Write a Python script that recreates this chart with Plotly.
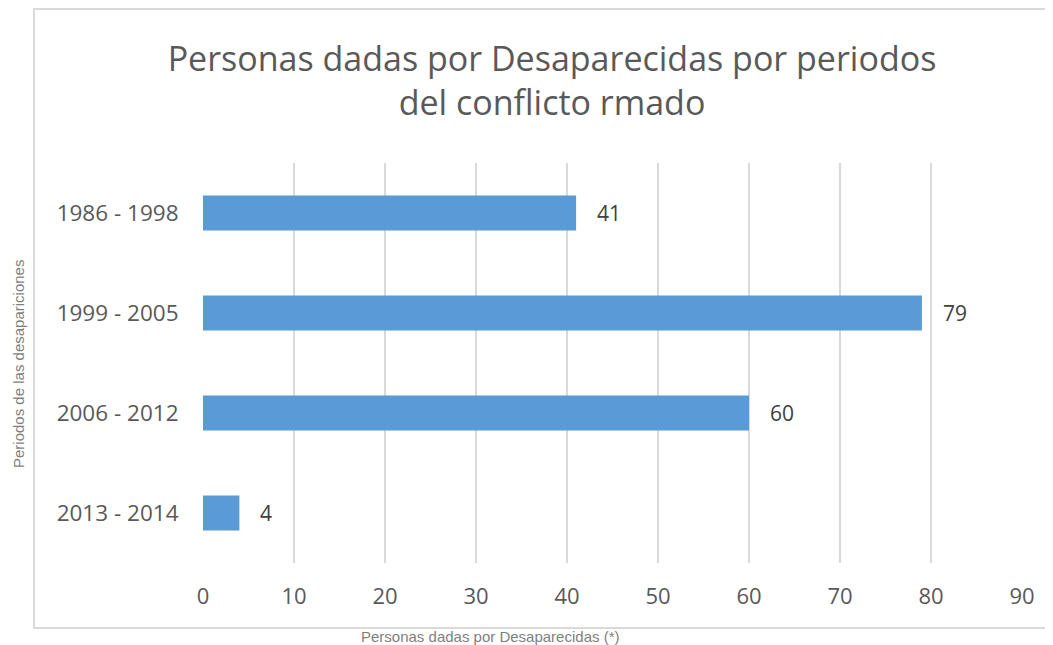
import plotly.graph_objects as go

categories = ["1986 - 1998", "1999 - 2005", "2006 - 2012", "2013 - 2014"]
values = [41, 79, 60, 4]
x_ticks = [0, 10, 20, 30, 40, 50, 60, 70, 80, 90]

title_text = "Personas dadas por Desaparecidas por periodos<br>del conflicto rmado"
x_title = "Personas dadas por Desaparecidas (*)"
y_title = "Periodos de las desapariciones"

# page body has an 8px margin; work in screen pixels and convert
OFF = 8
W, H = 1053 - OFF, 645 - OFF
PL, PR, PT, PB = 203, 1022, 163, 563  # plot area in screen pixels
L, T = PL - OFF, PT - OFF
R, B = W - (PR - OFF), H - (PB - OFF)
pw, ph = PR - PL, PB - PT

def px_x(p):
    return (p - PL) / pw

def px_y(p):
    return (PB - p) / ph

fig = go.Figure()
fig.add_trace(go.Bar(
    x=values, y=categories, orientation="h",
    marker=dict(color="#5B9BD5", line=dict(width=0)),
    hoverinfo="x+y",
))

annotations = []
for c, v in zip(categories, values):
    annotations.append(dict(
        x=v, y=c, xref="x", yref="y", text=str(v), showarrow=False,
        xanchor="left", xshift=19,
        font=dict(family="Open Sans", size=21, color="#404040"),
    ))
annotations.append(dict(
    x=px_x(490), y=px_y(636), xref="paper", yref="paper", text=x_title,
    showarrow=False, xanchor="center", yanchor="middle",
    font=dict(family="Liberation Sans", size=15, color="#7F7F7F"),
))
annotations.append(dict(
    x=px_x(18), y=px_y(364), xref="paper", yref="paper", text=y_title,
    showarrow=False, textangle=-90, xanchor="center", yanchor="middle",
    font=dict(family="Liberation Sans", size=15, color="#7F7F7F"),
))

fig.update_layout(
    width=W, height=H,
    margin=dict(l=L, r=R, t=T, b=B),
    paper_bgcolor="white", plot_bgcolor="white",
    showlegend=False,
    bargap=0.65,
    title=dict(
        text=title_text, xref="paper", x=px_x(552), xanchor="center",
        yref="container", y=1 - (71 - OFF) / H, yanchor="middle",
        font=dict(family="Open Sans", size=34, color="#595959"),
    ),
    xaxis=dict(
        range=[0, 90], tickvals=x_ticks, showgrid=True, gridcolor="#D9D9D9",
        gridwidth=2, zeroline=False, showline=False,
        ticks="outside", ticklen=14, tickcolor="rgba(0,0,0,0)",
        tickfont=dict(family="Open Sans", size=22, color="#595959"),
        fixedrange=True,
    ),
    yaxis=dict(
        categoryorder="array", categoryarray=categories[::-1],
        showgrid=False, zeroline=False, showline=False,
        ticks="outside", ticklen=19, tickcolor="rgba(0,0,0,0)",
        tickfont=dict(family="Open Sans", size=22.5, color="#595959"),
        fixedrange=True,
    ),
    annotations=annotations,
    shapes=[dict(
        type="rect", xref="paper", yref="paper",
        x0=px_x(34), x1=px_x(1054), y0=px_y(628), y1=px_y(9),
        line=dict(color="#D9D9D9", width=2), fillcolor="rgba(0,0,0,0)",
        layer="below",
    )],
)

fig.write_html("out.html")
